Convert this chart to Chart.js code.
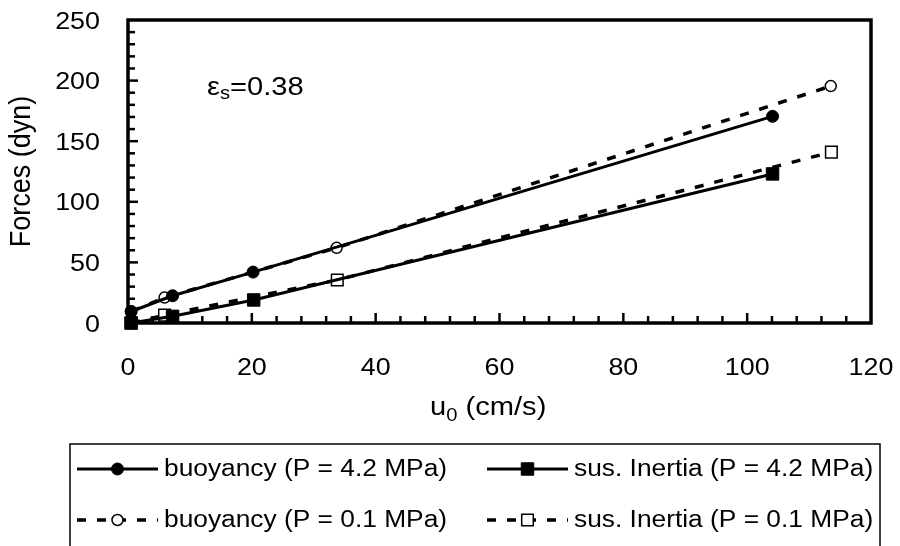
<!DOCTYPE html>
<html><head><meta charset="utf-8">
<script src="https://cdn.jsdelivr.net/npm/chart.js@4.4.1/dist/chart.umd.min.js"></script>
<style>html,body{margin:0;padding:0;background:#fff}#wrap{width:900px;height:546px;position:relative}</style>
</head><body><div id="wrap"><canvas id="c"></canvas></div>
<script>
// ---- data ----
const xTicks = [0, 20, 40, 60, 80, 100, 120];
const yTicks = [0, 50, 100, 150, 200, 250];
const buoy42X = [0.5, 7.2, 20.2, 104.1];
const buoy42Y = [9.5, 22.5, 42, 170.5];
const inert42X = [0.5, 7.2, 20.3, 104.1];
const inert42Y = [0, 5.5, 19, 123];
const buoy01X = [0.5, 5.9, 33.7, 113.5];
const buoy01Y = [9.5, 21, 62, 195.5];
const inert01X = [0.5, 5.9, 33.8, 113.6];
const inert01Y = [0, 6.5, 35.5, 141];
const seriesNames = ['buoyancy (P = 4.2 MPa)', 'sus. Inertia (P = 4.2 MPa)', 'buoyancy (P = 0.1 MPa)', 'sus. Inertia (P = 0.1 MPa)'];
const xTitleMain = 'u', xTitleSub = '0', xTitleRest = ' (cm/s)';
const yTitle = 'Forces (dyn)';
const noteMain = 'ε', noteSub = 's', noteRest = '=0.38';

const pts = (xs, ys) => xs.map((x, i) => ({x: x, y: ys[i]}));
const FONT = '"Liberation Sans", Arial, sans-serif';
const SX = 1.12;

function txt(ctx, s, x, y, size, align, base) {
  ctx.save();
  ctx.font = size + 'px ' + FONT;
  ctx.textAlign = align; ctx.textBaseline = base; ctx.fillStyle = '#000';
  ctx.translate(x, y); ctx.scale(SX, 1);
  ctx.fillText(s, 0, 0);
  ctx.restore();
}
function tw(ctx, s, size) { ctx.save(); ctx.font = size + 'px ' + FONT; const w = ctx.measureText(s).width * SX; ctx.restore(); return w; }

const solid = {borderColor: '#000', borderWidth: 3, showLine: true, tension: 0, clip: false, order: 0};
const dashed = {borderColor: '#000', borderWidth: 3.5, borderDash: [9, 11], showLine: true, tension: 0, clip: false, order: 1};

const datasets = [
  Object.assign({label: seriesNames[0], data: pts(buoy42X, buoy42Y), pointStyle: 'circle', pointRadius: 6, pointBackgroundColor: '#000', pointBorderColor: '#000', pointBorderWidth: 1}, solid),
  Object.assign({label: seriesNames[1], data: pts(inert42X, inert42Y), pointStyle: 'rect', pointRadius: 8.8, pointBackgroundColor: '#000', pointBorderColor: '#000', pointBorderWidth: 1}, solid),
  Object.assign({label: seriesNames[2], data: pts(buoy01X, buoy01Y), pointStyle: 'circle', pointRadius: 5.5, pointBackgroundColor: '#fff', pointBorderColor: '#000', pointBorderWidth: 1.5}, dashed),
  Object.assign({label: seriesNames[3], data: pts(inert01X, inert01Y), pointStyle: 'rect', pointRadius: 8.2, pointBackgroundColor: '#fff', pointBorderColor: '#000', pointBorderWidth: 1.5}, dashed)
];

const deco = {
  id: 'deco',
  afterDraw(chart) {
    const ctx = chart.ctx, xs = chart.scales.x, ys = chart.scales.y;
    const L = xs.getPixelForValue(0), R = xs.getPixelForValue(120);
    const T = ys.getPixelForValue(250), B = ys.getPixelForValue(0);
    ctx.save();
    ctx.strokeStyle = '#000';
    ctx.lineWidth = 2.5;
    for (let v = 10; v < 250; v += 10) {
      const y = ys.getPixelForValue(v), len = v % 50 === 0 ? 10 : 7;
      ctx.beginPath(); ctx.moveTo(L, y); ctx.lineTo(L + len, y); ctx.stroke();
    }
    for (let v = 4; v < 120; v += 4) {
      const x = xs.getPixelForValue(v), len = v % 20 === 0 ? 10 : 7;
      ctx.beginPath(); ctx.moveTo(x, B); ctx.lineTo(x, B - len); ctx.stroke();
    }
    ctx.lineWidth = 3.5;
    ctx.strokeRect(L, T, R - L, B - T);
    ctx.restore();
    // tick labels
    yTicks.forEach(v => txt(ctx, String(v), 100, ys.getPixelForValue(v) + 2, 24, 'right', 'middle'));
    xTicks.forEach(v => txt(ctx, String(v), xs.getPixelForValue(v), 368, 24, 'center', 'middle'));
    // x title
    const wMain = tw(ctx, xTitleMain, 26), wSub = tw(ctx, xTitleSub, 18);
    const x0 = 430;
    txt(ctx, xTitleMain, x0, 415, 26, 'left', 'alphabetic');
    txt(ctx, xTitleSub, x0 + wMain, 421, 18, 'left', 'alphabetic');
    txt(ctx, xTitleRest, x0 + wMain + wSub, 415, 26, 'left', 'alphabetic');
    // y title
    ctx.save();
    ctx.translate(22, (T + B) / 2); ctx.rotate(-Math.PI / 2);
    ctx.font = '27px ' + FONT; ctx.textAlign = 'center'; ctx.textBaseline = 'middle'; ctx.fillStyle = '#000';
    ctx.scale(1, SX);
    ctx.fillText(yTitle, 0, 0);
    ctx.restore();
    // annotation
    const n1 = tw(ctx, noteMain, 26), n2 = tw(ctx, noteSub, 18);
    txt(ctx, noteMain, 207, 95, 26, 'left', 'alphabetic');
    txt(ctx, noteSub, 207 + n1, 99, 18, 'left', 'alphabetic');
    txt(ctx, noteRest, 207 + n1 + n2, 95, 26, 'left', 'alphabetic');
    // legend
    ctx.save();
    ctx.strokeStyle = '#000'; ctx.lineWidth = 1.5;
    ctx.strokeRect(70, 444, 880 - 70, 130);
    ctx.restore();
    const cols = [{l: 77, r: 158, t: 164}, {l: 487, r: 568, t: 574}];
    const rows = [469, 520];
    const order = [[0, 1], [2, 3]];
    rows.forEach((ry, ri) => cols.forEach((c, ci) => {
      const ds = chart.data.datasets[order[ri][ci]];
      ctx.save();
      ctx.strokeStyle = '#000'; ctx.lineWidth = ds.borderWidth;
      ctx.setLineDash(ds.borderDash || []);
      ctx.beginPath(); ctx.moveTo(c.l, ry); ctx.lineTo(c.r, ry); ctx.stroke();
      ctx.setLineDash([]);
      ctx.fillStyle = ds.pointBackgroundColor; ctx.strokeStyle = '#000'; ctx.lineWidth = ds.pointBorderWidth;
      Chart.helpers.drawPoint(ctx, {pointStyle: ds.pointStyle, radius: ds.pointRadius, borderWidth: ds.pointBorderWidth}, (c.l + c.r) / 2, ry);
      ctx.restore();
      txt(ctx, ds.label, c.t, ry + 1, 23.5, 'left', 'middle');
    }));
  }
};

new Chart(document.getElementById('c'), {
  type: 'scatter',
  data: {datasets: datasets},
  options: {
    responsive: true, maintainAspectRatio: false, animation: false, devicePixelRatio: 1,
    layout: {padding: {left: 128, top: 20, right: 29, bottom: 223}},
    plugins: {legend: {display: false}, tooltip: {enabled: false}},
    scales: {
      x: {type: 'linear', min: 0, max: 120, display: false},
      y: {type: 'linear', min: 0, max: 250, display: false}
    }
  },
  plugins: [deco]
});
</script>
</body></html>
